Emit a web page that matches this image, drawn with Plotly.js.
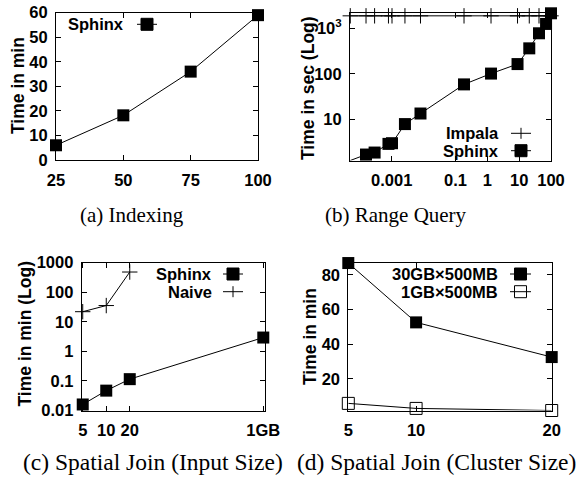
<!DOCTYPE html>
<html><head><meta charset="utf-8">
<script src="https://cdn.plot.ly/plotly-3.0.1.min.js"></script>
<style>body{margin:0;background:#fff}#chart{width:581px;height:480px}</style>
</head><body><div id="chart"></div>
<script>
// (a) Indexing
const idxSizes = [25, 50, 75, 100];
const idxSphinx = [6, 18.2, 36, 59];
// (b) Range query
const rqSel = [0.00005, 0.000156, 0.00029, 0.00079, 0.00102, 0.0026, 0.008, 0.186, 1.31, 8.9, 20.8, 42, 70, 100];
const rqSphinx = [1.25, 1.69, 1.87, 2.9, 3.0, 7.9, 13.5, 59, 102, 165, 366, 785, 1260, 2160];
const rqImpala = [1900, 1900, 1900, 1900, 1900, 1900, 1900, 1900, 1900, 1900, 1900, 1900, 1900, 1900];
const rqYTicks = [10, 100, 1000];
const rqYText = ["10", "100", "10<sup>3</sup>"];
const rqXTicks = [0.001, 0.1, 1, 10, 100];
const rqXText = ["0.001", "0.1", "1", "10", "100"];
// (c) Spatial join, input size (MB)
const sjSizes = [5, 10, 20, 1024];
const sjSizeText = ["5", "10", "20", "1GB"];
const sjSphinx = [0.016, 0.047, 0.115, 2.94];
const sjNaiveSizes = [5, 10, 20];
const sjNaive = [22, 35.5, 484];
const sjYTicks = [0.01, 0.1, 1, 10, 100, 1000];
const sjYText = ["0.01", "0.1", "1", "10", "100", "1000"];
// (d) Spatial join, cluster size
const clNodes = [5, 10, 20];
const cl30GB = [86.8, 52.6, 32.6];
const cl1GB = [5.9, 3.0, 1.8];

const W = 581, H = 480;
const px = x => x / W, py = y => 1 - y / H;
const FONT = 'Liberation Sans, Arial, Helvetica, sans-serif';
const SERIF = 'Liberation Serif, Times New Roman, serif';
const tickFont = {family: FONT, size: 16.5, color: '#000', weight: 'bold'};
const legFont = {family: FONT, size: 16.5, color: '#000', weight: 'bold'};
const titleFont = {family: FONT, size: 17.5, color: '#000', weight: 'bold'};

function ax(extra) {
  return Object.assign({
    showline: true, mirror: 'ticks', linecolor: '#000', linewidth: 1,
    ticks: 'inside', ticklen: 5, tickwidth: 1, tickcolor: '#000',
    showgrid: false, zeroline: false, tickfont: tickFont, fixedrange: true
  }, extra);
}

const sq = {symbol: 'square', size: 12, color: '#000', line: {width: 0}};
const cross = {symbol: 'cross-thin', size: 11, color: '#000', line: {width: 1, color: '#000'}};
const osq = {symbol: 'square-open', size: 12, color: '#000', line: {width: 1, color: '#000'}};
const ln = {color: '#000', width: 1};

const traces = [
  {x: idxSizes, y: idxSphinx, xaxis: 'x', yaxis: 'y', mode: 'lines+markers', marker: sq, line: ln, cliponaxis: false},
  {x: rqSel, y: rqImpala, xaxis: 'x2', yaxis: 'y2', mode: 'lines+markers', marker: cross, line: ln, cliponaxis: false},
  {x: rqSel, y: rqSphinx, xaxis: 'x2', yaxis: 'y2', mode: 'lines+markers', marker: sq, line: ln, cliponaxis: false},
  {x: sjSizes, y: sjSphinx, xaxis: 'x3', yaxis: 'y3', mode: 'lines+markers', marker: sq, line: ln, cliponaxis: false},
  {x: sjNaiveSizes, y: sjNaive, xaxis: 'x3', yaxis: 'y3', mode: 'lines+markers', marker: cross, line: ln, cliponaxis: false},
  {x: clNodes, y: cl30GB, xaxis: 'x4', yaxis: 'y4', mode: 'lines+markers', marker: sq, line: ln, cliponaxis: false},
  {x: clNodes, y: cl1GB, xaxis: 'x4', yaxis: 'y4', mode: 'lines+markers', marker: osq, line: ln, cliponaxis: false}
];

const shapes = [];
const annotations = [];
function legendEntry(textRight, y, x1, x2, label, kind) {
  annotations.push({xref: 'paper', yref: 'paper', x: px(textRight), y: py(y), xanchor: 'right', yanchor: 'middle',
    text: label, showarrow: false, font: legFont});
  shapes.push({type: 'line', xref: 'paper', yref: 'paper', x0: px(x1), x1: px(x2), y0: py(y), y1: py(y), line: {color: '#000', width: 1}});
  const cx = (x1 + x2) / 2;
  if (kind === 'sq' || kind === 'osq') {
    shapes.push({type: 'rect', xref: 'paper', yref: 'paper', x0: px(cx - 6), x1: px(cx + 6), y0: py(y + 6), y1: py(y - 6),
      fillcolor: kind === 'sq' ? '#000' : 'rgba(0,0,0,0)', line: {color: '#000', width: 1}});
  } else {
    shapes.push({type: 'line', xref: 'paper', yref: 'paper', x0: px(cx), x1: px(cx), y0: py(y - 5.5), y1: py(y + 5.5), line: {color: '#000', width: 1}});
  }
}
legendEntry(126, 24.3, 137, 157, 'Sphinx', 'sq');
legendEntry(501, 133.3, 511, 531, 'Impala', 'cross');
legendEntry(501, 150.7, 511, 531, 'Sphinx', 'sq');
legendEntry(213.5, 274, 223, 243, 'Sphinx', 'sq');
legendEntry(213.5, 291.7, 223, 243, 'Naive', 'cross');
legendEntry(499.5, 274, 510, 531, '30GB×500MB', 'sq');
legendEntry(499.5, 291.7, 510, 531, '1GB×500MB', 'osq');

function ytitle(x, y, text) {
  annotations.push({xref: 'paper', yref: 'paper', x: px(x), y: py(y), xanchor: 'center', yanchor: 'middle',
    text: text, textangle: -90, showarrow: false, font: titleFont});
}
ytitle(18, 86, 'Time in min');
ytitle(308, 88, 'Time in sec (Log)');
ytitle(24.5, 334, 'Time in min (Log)');
ytitle(310, 337, 'Time in min');

function caption(x, y, text, size) {
  annotations.push({xref: 'paper', yref: 'paper', x: px(x), y: py(y), xanchor: 'center', yanchor: 'middle',
    text: text, showarrow: false, font: {family: SERIF, size: size, color: '#000'}});
}
caption(132, 215, '(a) Indexing', 21);
caption(396, 215, '(b) Range Query', 21);
caption(153, 462, '(c) Spatial Join (Input Size)', 23.5);
caption(436, 462, '(d) Spatial Join (Cluster Size)', 23.5);

const layout = {
  width: W, height: H, margin: {l: 0, r: 0, t: 0, b: 0},
  paper_bgcolor: '#fff', plot_bgcolor: '#fff', showlegend: false,
  xaxis: ax({domain: [px(56), px(258)], range: [25, 100], tickvals: idxSizes, anchor: 'y', ticklabelstandoff: 5}),
  yaxis: ax({domain: [py(160), py(12.7)], range: [0, 60], dtick: 10, anchor: 'x', ticklabelstandoff: 4}),
  xaxis2: ax({type: 'log', domain: [px(350), px(551)], range: [Math.log10(0.000049), 2], tickvals: rqXTicks, ticktext: rqXText, anchor: 'y2', ticklabelstandoff: 5}),
  yaxis2: ax({type: 'log', domain: [py(160.5), py(13.3)], range: [Math.log10(1.25), Math.log10(2160)], tickvals: rqYTicks, ticktext: rqYText, anchor: 'x2', ticklabelstandoff: 4}),
  xaxis3: ax({type: 'log', domain: [px(81.7), px(265)], range: [Math.log10(4.85), Math.log10(1077)], tickvals: sjSizes, ticktext: sjSizeText, anchor: 'y3', ticklabelstandoff: 5}),
  yaxis3: ax({type: 'log', domain: [py(410.5), py(262.7)], range: [-2, 3], tickvals: sjYTicks, ticktext: sjYText, anchor: 'x3', ticklabelstandoff: 4}),
  xaxis4: ax({domain: [px(348.3), px(551.7)], range: [5, 20], tickvals: clNodes, anchor: 'y4', ticklabelstandoff: 5}),
  yaxis4: ax({domain: [py(410.5), py(262.7)], range: [1.8, 87], tickvals: [20, 40, 60, 80], anchor: 'x4', ticklabelstandoff: 4}),
  shapes: shapes, annotations: annotations
};

Plotly.newPlot('chart', traces, layout, {staticPlot: true, displayModeBar: false});
</script>
</body></html>
